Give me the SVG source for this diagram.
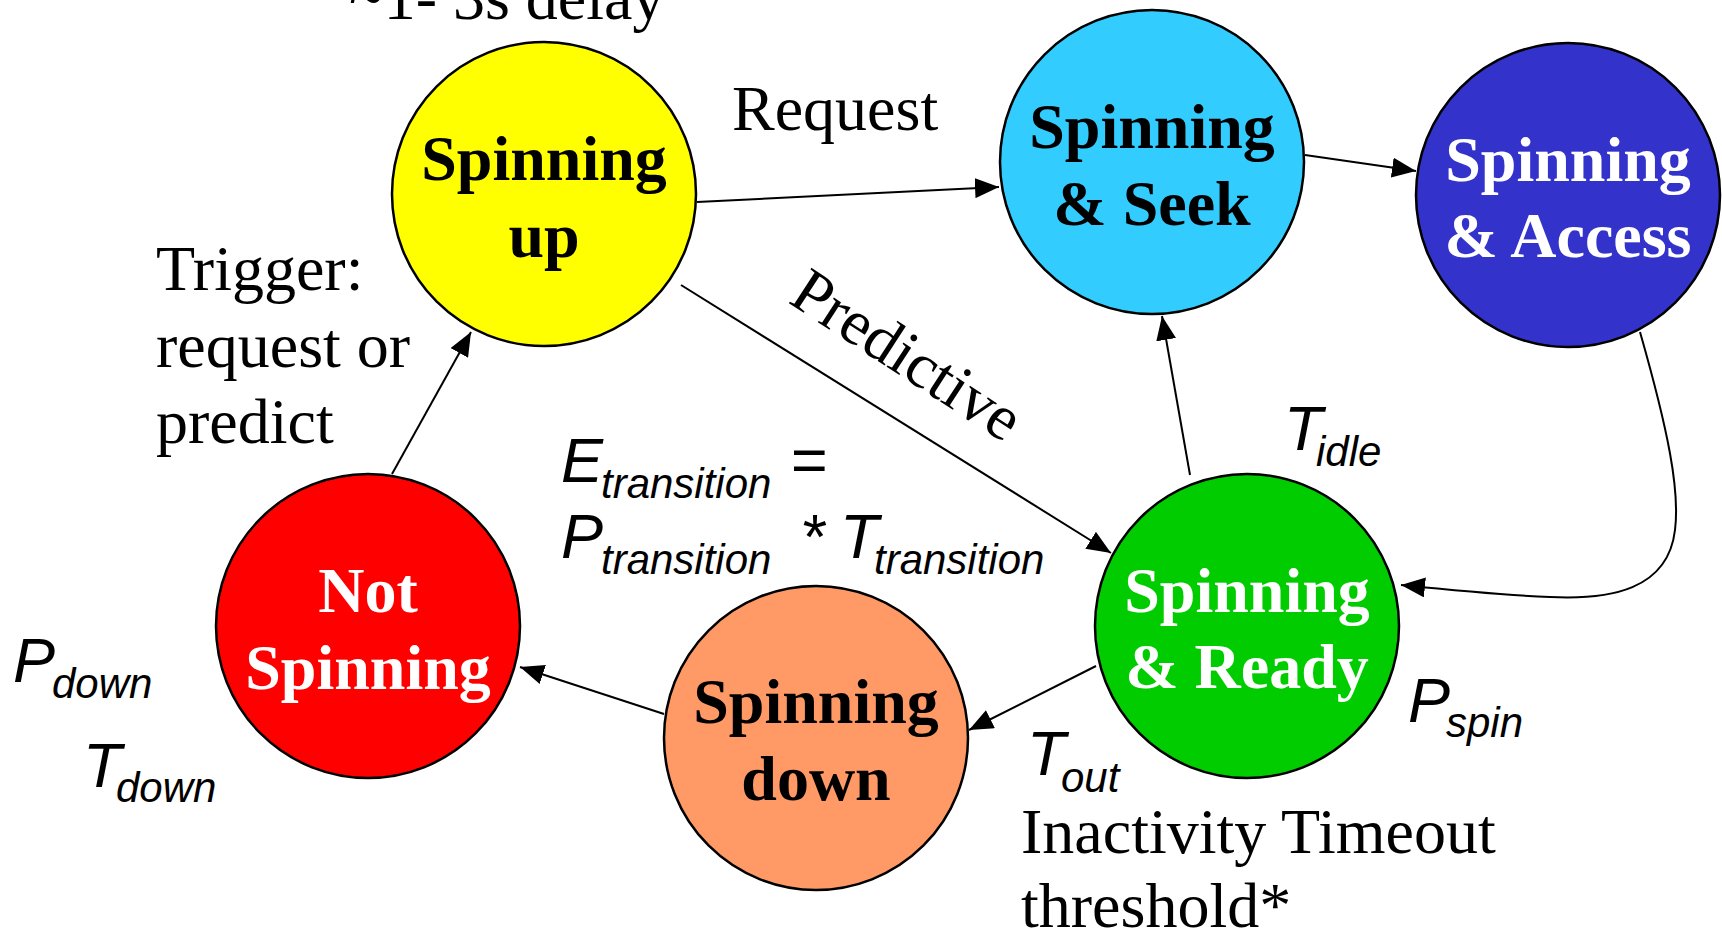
<svg xmlns="http://www.w3.org/2000/svg" width="1722" height="934" viewBox="0 0 1722 934">
<style>
.node{stroke:#000;stroke-width:2.5}
.nl{font-family:"Liberation Serif","Times New Roman",serif;font-weight:bold;font-size:64px;text-anchor:middle}
.lbl{font-family:"Liberation Serif","Times New Roman",serif;font-size:64px;fill:#000}
.it{font-family:"Liberation Sans",Arial,sans-serif;font-style:italic;font-size:63px;fill:#000}
.sub{font-family:"Liberation Sans",Arial,sans-serif;font-style:italic;font-size:42px;fill:#000}
.conn{fill:none;stroke:#000;stroke-width:2}
</style>
<defs>
<marker id="ah" markerUnits="userSpaceOnUse" markerWidth="24" markerHeight="20" refX="24" refY="10" orient="auto" viewBox="0 0 24 20">
<path d="M0,0 L24,10 L0,20 z" fill="#000"/>
</marker>
</defs>
<rect width="1722" height="934" fill="#fff"/>
<g id="connectors">
<path class="conn" d="M392,474 L471,332" marker-end="url(#ah)"/>
<path class="conn" d="M697,202 L999,187" marker-end="url(#ah)"/>
<path class="conn" d="M1305,155 L1416,171" marker-end="url(#ah)"/>
<path class="conn" d="M1640,332 C1668,430 1680,490 1675,530 C1668,590 1610,600 1550,597 C1500,595 1450,590 1401,585" marker-end="url(#ah)"/>
<path class="conn" d="M1190,475 L1162,316" marker-end="url(#ah)"/>
<path class="conn" d="M681,285 L1111,553" marker-end="url(#ah)"/>
<path class="conn" d="M1096,666 L969,730" marker-end="url(#ah)"/>
<path class="conn" d="M664,714 L520,667" marker-end="url(#ah)"/>
</g>
<g id="spinning-up">
<circle class="node" cx="544" cy="194" r="152" fill="#FFFF00"/>
<text class="nl" x="544" y="180" fill="#000">Spinning</text>
<text class="nl" x="544" y="257" fill="#000">up</text>
</g>
<g id="spinning-seek">
<circle class="node" cx="1152" cy="162" r="152" fill="#33CCFF"/>
<text class="nl" x="1152" y="148" fill="#000">Spinning</text>
<text class="nl" x="1152" y="225" fill="#000">&amp; Seek</text>
</g>
<g id="spinning-access">
<circle class="node" cx="1568" cy="195" r="152" fill="#3333CC"/>
<text class="nl" x="1568" y="181" fill="#fff">Spinning</text>
<text class="nl" x="1568" y="257" fill="#fff">&amp; Access</text>
</g>
<g id="not-spinning">
<circle class="node" cx="368" cy="626" r="152" fill="#FF0000"/>
<text class="nl" x="368" y="612" fill="#fff">Not</text>
<text class="nl" x="368" y="689" fill="#fff">Spinning</text>
</g>
<g id="spinning-down">
<circle class="node" cx="816" cy="738" r="152" fill="#FF9966"/>
<text class="nl" x="816" y="723" fill="#000">Spinning</text>
<text class="nl" x="816" y="800" fill="#000">down</text>
</g>
<g id="spinning-ready">
<circle class="node" cx="1247" cy="626" r="152" fill="#00CC00"/>
<text class="nl" x="1247" y="612" fill="#fff">Spinning</text>
<text class="nl" x="1247" y="688" fill="#fff">&amp; Ready</text>
</g>
<g id="labels">
<text class="lbl" x="349" y="19">~1- 3s delay</text>
<text class="lbl" x="732" y="130">Request</text>
<text class="lbl" x="156" y="290">Trigger:</text>
<text class="lbl" x="156" y="367">request or</text>
<text class="lbl" x="156" y="443">predict</text>
<text class="lbl" transform="translate(787,302) rotate(33)">Predictive</text>
<text class="it" x="561" y="482">E</text><text class="sub" x="601" y="498">transition</text><text class="it" x="790" y="482">=</text>
<text class="it" x="561" y="558">P</text><text class="sub" x="601" y="574">transition</text><text class="it" x="800" y="558">*</text>
<text class="it" x="840" y="558">T</text><text class="sub" x="874" y="574">transition</text>
<text class="it" x="1284" y="450">T</text><text class="sub" x="1316" y="466">idle</text>
<text class="it" x="1408" y="722">P</text><text class="sub" x="1446" y="737">spin</text>
<text class="it" x="1027" y="775">T</text><text class="sub" x="1061" y="792">out</text>
<text class="lbl" x="1021" y="853">Inactivity Timeout</text>
<text class="lbl" x="1021" y="927">threshold*</text>
<text class="it" x="13" y="682">P</text><text class="sub" x="52" y="698">down</text>
<text class="it" x="83" y="787">T</text><text class="sub" x="116" y="802">down</text>
</g>
</svg>
